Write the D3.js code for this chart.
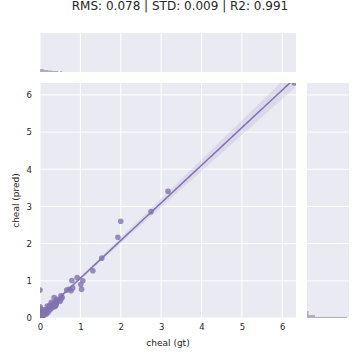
<!DOCTYPE html>
<html>
<head>
<meta charset="utf-8">
<script src="https://cdn.jsdelivr.net/npm/d3@7"></script>
<style>
body { margin: 0; background: #fff; }
text { font-family: "DejaVu Sans", sans-serif; fill: #262626; }
</style>
</head>
<body>
<div id="chart"></div>
<script>
var title = "RMS: 0.078 | STD: 0.009 | R2: 0.991";
var xLabel = "cheal (gt)";
var yLabel = "cheal (pred)";
var tickValues = [0, 1, 2, 3, 4, 5, 6];

// ground truth vs prediction
var gt = [6.30, 3.17, 2.75, 2.00, 1.93, 1.53, 1.31, 1.06, 1.01, 1.03, 0.92, 0.79, 0.81, 0.77, 0.66, 0.72,
    0.52, 0.52, 0.55, 0.35, 0.00, 0.45, 0.40, 0.38, 0.33, 0.30, 0.28, 0.25, 0.22, 0.20, 0.18, 0.15,
    0.12, 0.10, 0.08, 0.06, 0.05, 0.03, 0.02, 0.01, 0.00, 0.00, 0.00, 0.00, 0.02, 0.05, 0.10, 0.15,
    0.20, 0.25, 0.30, 0.35, 0.40, 0.42, 0.38, 0.50, 0.13, 0.07, 0.17, 0.27];
var pred = [6.32, 3.41, 2.86, 2.60, 2.17, 1.61, 1.27, 1.00, 0.90, 0.77, 1.09, 1.01, 0.81, 0.73, 0.75, 0.77,
    0.60, 0.51, 0.55, 0.55, 0.75, 0.47, 0.40, 0.45, 0.38, 0.32, 0.42, 0.35, 0.30, 0.25, 0.32, 0.20,
    0.18, 0.22, 0.12, 0.10, 0.15, 0.05, 0.08, 0.02, 0.30, 0.20, 0.10, 0.05, 0.25, 0.03, 0.08, 0.10,
    0.15, 0.22, 0.28, 0.30, 0.35, 0.50, 0.32, 0.45, 0.13, 0.06, 0.18, 0.26];

// marginal histograms (bin start, bin end, count)
var topBins = [[0, 0.1, 3], [0.1, 0.2, 2], [0.2, 0.3, 1.5], [0.3, 0.45, 1], [0.5, 0.55, 1]];
var rightBins = [[0, 0.03, 40], [0.03, 0.08, 8], [0.08, 0.19, 1.5]];

var svg = d3.select("#chart").append("svg")
    .attr("width", 360)
    .attr("height", 360);

var main = {left: 40, right: 296, top: 83, bottom: 318};

var x = d3.scaleLinear().domain([0, 6.34]).range([main.left, main.right]);
var y = d3.scaleLinear().domain([0, 6.32]).range([main.bottom, main.top]);
var topY = d3.scaleLinear().domain([0, 39]).range([72, 33]);
var rightX = d3.scaleLinear().domain([0, 42]).range([307, 349]);

var color = "#8172b2";
var bg = "#eaeaf2";

// backgrounds
svg.append("rect").attr("x", main.left).attr("y", main.top)
    .attr("width", main.right - main.left).attr("height", main.bottom - main.top).attr("fill", bg);
svg.append("rect").attr("x", main.left).attr("y", 33)
    .attr("width", main.right - main.left).attr("height", 39).attr("fill", bg);
svg.append("rect").attr("x", 307).attr("y", main.top)
    .attr("width", 42).attr("height", main.bottom - main.top).attr("fill", bg);

// grid lines
var grid = svg.append("g").attr("stroke", "#fff").attr("stroke-width", 1);
tickValues.forEach(function (t) {
    grid.append("line").attr("x1", x(t)).attr("x2", x(t)).attr("y1", main.top).attr("y2", main.bottom);
    grid.append("line").attr("x1", x(t)).attr("x2", x(t)).attr("y1", 33).attr("y2", 72);
    grid.append("line").attr("y1", y(t)).attr("y2", y(t)).attr("x1", main.left).attr("x2", main.right);
    grid.append("line").attr("y1", y(t)).attr("y2", y(t)).attr("x1", 307).attr("x2", 349);
});

// marginal histograms
svg.append("g").selectAll("rect")
    .data(topBins).enter().append("rect")
    .attr("x", function (d) { return x(d[0]); })
    .attr("width", function (d) { return x(d[1]) - x(d[0]); })
    .attr("y", function (d) { return topY(d[2]); })
    .attr("height", function (d) { return topY(0) - topY(d[2]); })
    .attr("fill", color).attr("fill-opacity", 0.55);

svg.append("g").selectAll("rect")
    .data(rightBins).enter().append("rect")
    .attr("y", function (d) { return y(d[1]); })
    .attr("height", function (d) { return y(d[0]) - y(d[1]); })
    .attr("x", rightX(0))
    .attr("width", function (d) { return rightX(d[2]) - rightX(0); })
    .attr("fill", color).attr("fill-opacity", 0.55);

// linear regression with confidence band
var n = gt.length;
var mx = d3.mean(gt), my = d3.mean(pred);
var sxx = d3.sum(gt, function (v) { return (v - mx) * (v - mx); });
var sxy = d3.sum(gt, function (v, i) { return (v - mx) * (pred[i] - my); });
var slope = sxy / sxx, intercept = my - slope * mx;
var sse = d3.sum(gt, function (v, i) { var r = pred[i] - (intercept + slope * v); return r * r; });
var s = Math.sqrt(sse / (n - 2));
var fitX = d3.range(0, 101).map(function (i) { return 6.3 * i / 100; });
var fit = fitX.map(function (v) {
    var yh = intercept + slope * v;
    var se = s * Math.sqrt(1 / n + (v - mx) * (v - mx) / sxx);
    return {x: v, y: yh, lo: yh - 2.2 * se, hi: yh + 2.2 * se};
});

svg.append("clipPath").attr("id", "clipMain").append("rect")
    .attr("x", main.left).attr("y", main.top)
    .attr("width", main.right - main.left).attr("height", main.bottom - main.top);

var plot = svg.append("g").attr("clip-path", "url(#clipMain)");

plot.append("g").selectAll("circle")
    .data(gt).enter().append("circle")
    .attr("cx", function (d) { return x(d); })
    .attr("cy", function (d, i) { return y(pred[i]); })
    .attr("r", 2.8)
    .attr("fill", color).attr("fill-opacity", 0.8);

plot.append("path")
    .datum(fit)
    .attr("d", d3.area()
        .x(function (d) { return x(d.x); })
        .y0(function (d) { return y(d.lo); })
        .y1(function (d) { return y(d.hi); }))
    .attr("fill", color).attr("fill-opacity", 0.15);

plot.append("path")
    .datum(fit)
    .attr("d", d3.line()
        .x(function (d) { return x(d.x); })
        .y(function (d) { return y(d.y); }))
    .attr("fill", "none").attr("stroke", color).attr("stroke-width", 1.5);

// axes (labels only, seaborn darkgrid has no spines)
var xAxis = svg.append("g")
    .attr("transform", "translate(0," + main.bottom + ")")
    .call(d3.axisBottom(x).tickValues(tickValues).tickSize(0).tickPadding(6).tickFormat(d3.format("d")));
var yAxis = svg.append("g")
    .attr("transform", "translate(" + main.left + ",0)")
    .call(d3.axisLeft(y).tickValues(tickValues).tickSize(0).tickPadding(8).tickFormat(d3.format("d")));
[xAxis, yAxis].forEach(function (a) {
    a.select(".domain").remove();
    a.selectAll("text").attr("font-size", 8.5).attr("font-family", "DejaVu Sans").attr("fill", "#262626");
});

svg.append("text")
    .attr("x", (main.left + main.right) / 2).attr("y", 346)
    .attr("text-anchor", "middle").attr("font-size", 9)
    .text(xLabel);

svg.append("text")
    .attr("transform", "translate(19," + (main.top + main.bottom) / 2 + ") rotate(-90)")
    .attr("text-anchor", "middle").attr("font-size", 9)
    .text(yLabel);

svg.append("text")
    .attr("x", 180).attr("y", 10)
    .attr("text-anchor", "middle").attr("font-size", 12)
    .text(title);
</script>
</body>
</html>
